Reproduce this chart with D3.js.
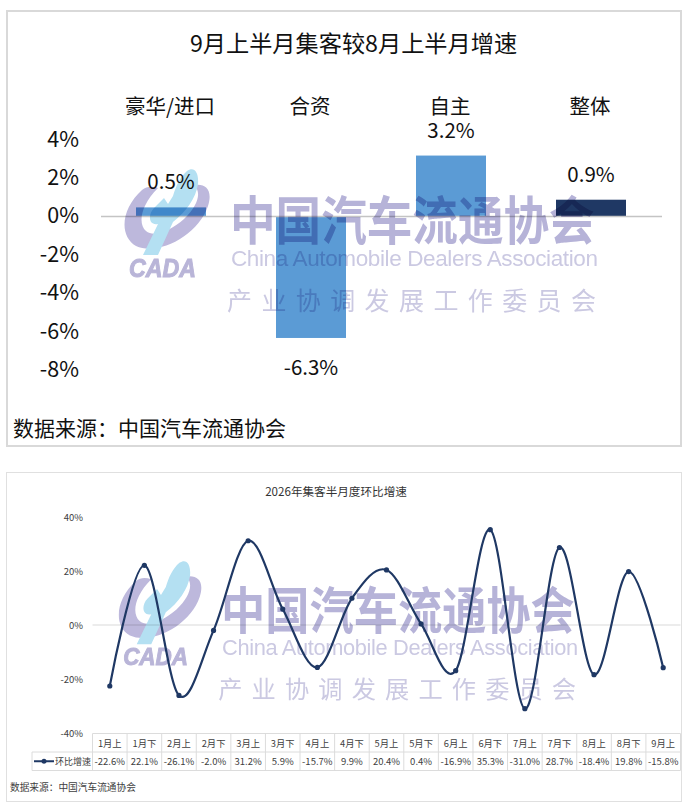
<!DOCTYPE html>
<html><head><meta charset="utf-8">
<script src="https://cdnjs.cloudflare.com/ajax/libs/d3/7.8.5/d3.min.js"></script>
<style>
html,body{margin:0;padding:0;background:#fff}
svg{display:block}
text{font-family:"Noto Sans CJK SC","Noto Sans",sans-serif}
.wm{mix-blend-mode:multiply}
</style></head><body>
<svg id="c" width="687" height="809"></svg>
<script>
const barTitle = "9月上半月集客较8月上半月增速";
const barCategories = ["豪华/进口","合资","自主","整体"];
const barValues = [0.5,-6.3,3.2,0.9];
const barTicks = [4,2,0,-2,-4,-6,-8];
const barColors = ["#5b9bd5","#5b9bd5","#5b9bd5","#1f3864"];
const sourceText = "数据来源：中国汽车流通协会";
const lineTitle = "2026年集客半月度环比增速";
const periods = ["1月上","1月下","2月上","2月下","3月上","3月下","4月上","4月下","5月上","5月下","6月上","6月下","7月上","7月下","8月上","8月下","9月上"];
const momGrowth = [-22.6,22.1,-26.1,-2.0,31.2,5.9,-15.7,9.9,20.4,0.4,-16.9,35.3,-31.0,28.7,-18.4,19.8,-15.8];
const lineTicks = [40,20,0,-20,-40];
const seriesName = "环比增速";

const svg = d3.select("#c");
const pct1 = d => d.toFixed(1)+"%";
svg.append("rect").attr("x",7).attr("y",11).attr("width",674).attr("height",435).attr("fill","#fff").attr("stroke","#d9d9d9").attr("stroke-width",2);
svg.append("rect").attr("x",6.5).attr("y",472.5).attr("width",675).attr("height",329).attr("fill","#fff").attr("stroke","#e0e0e0");

/* ---------- top bar chart ---------- */
const x1 = d3.scaleBand().domain(barCategories).range([101,661]).paddingInner(0.5).paddingOuter(0.25);
const y1 = d3.scaleLinear().domain([-8,4]).range([370.6,140.2]);
const topG = svg.append("g");
topG.append("text").attr("x",353.5).attr("y",41.5).attr("text-anchor","middle").attr("dominant-baseline","central").attr("font-size",23.2).attr("fill","#111").text(barTitle);
topG.selectAll("rect.bar").data(barValues).join("rect").attr("class","bar")
  .attr("x",(d,i)=>x1(barCategories[i])).attr("width",x1.bandwidth())
  .attr("y",d=>y1(Math.max(d,0))).attr("height",d=>Math.abs(y1(d)-y1(0)))
  .attr("fill",(d,i)=>barColors[i]);
topG.append("line").attr("x1",101).attr("x2",662).attr("y1",216.5).attr("y2",216.5).attr("stroke","#c4c4c4").attr("stroke-width",1.5);
const axT = topG.append("g").attr("transform","translate(79,-1)").call(d3.axisLeft(y1).tickValues(barTicks).tickSize(0).tickPadding(0).tickFormat(d=>d+"%"));
axT.select(".domain").remove();
axT.selectAll("text").attr("font-size",21.5).attr("fill","#111").attr("font-family",'"Noto Sans CJK SC"');
topG.selectAll("text.cat").data(barCategories).join("text").attr("class","cat")
  .attr("x",d=>x1(d)+x1.bandwidth()/2-1).attr("y",104.5).attr("text-anchor","middle").attr("dominant-baseline","central")
  .attr("font-size",20.5).attr("fill","#111").text(d=>d);
topG.selectAll("text.val").data(barValues).join("text").attr("class","val")
  .attr("x",(d,i)=>x1(barCategories[i])+x1.bandwidth()/2)
  .attr("y",d=>d<0?y1(d)+28:y1(d)-27).attr("text-anchor","middle").attr("dominant-baseline","central")
  .attr("font-size",20.5).attr("fill","#111").text(pct1);
topG.append("text").attr("x",13).attr("y",426.5).attr("dominant-baseline","central").attr("font-size",21).attr("fill","#111").text(sourceText);

/* ---------- bottom line chart ---------- */
const x2 = d3.scaleBand().domain(periods).range([92.5,680.5]);
const y2 = d3.scaleLinear().domain([-40,40]).range([733,517]);
const cx = p => x2(p)+x2.bandwidth()/2;
const bot = svg.append("g");
bot.append("text").attr("x",336).attr("y",491).attr("text-anchor","middle").attr("dominant-baseline","central").attr("font-size",11.6).attr("fill","#333").text(lineTitle);
bot.append("line").attr("x1",92.5).attr("x2",680.5).attr("y1",y2(0)).attr("y2",y2(0)).attr("stroke","#d9d9d9");
const axB = bot.append("g").attr("transform","translate(83,0)").call(d3.axisLeft(y2).tickValues(lineTicks).tickSize(0).tickPadding(0).tickFormat(d=>d+"%"));
axB.select(".domain").remove();
axB.selectAll("text").attr("font-size",9.5).attr("fill","#404040").attr("font-family",'"Noto Sans CJK SC"');

/* table */
const rowTop=733.5,rowMid=752,rowBot=770.5,legL=32;
const tbl = bot.append("g").attr("stroke","#dcdcdc").attr("fill","none");
[[92.5,rowTop,680.5,rowTop],[legL,rowMid,680.5,rowMid],[legL,rowBot,680.5,rowBot],[legL,rowMid,legL,rowBot]].forEach(l=>
  tbl.append("line").attr("x1",l[0]).attr("y1",l[1]).attr("x2",l[2]).attr("y2",l[3]));
x2.domain().concat([null]).forEach(p=>{
  const X = p===null?680.5:x2(p);
  tbl.append("line").attr("x1",X).attr("x2",X).attr("y1",rowTop).attr("y2",rowBot);
});
bot.selectAll("text.per").data(periods).join("text").attr("class","per")
  .attr("x",cx).attr("y",(rowTop+rowMid)/2).attr("text-anchor","middle").attr("dominant-baseline","central").attr("font-size",9.3).attr("fill","#404040").text(d=>d);
bot.selectAll("text.tv").data(momGrowth).join("text").attr("class","tv")
  .attr("x",(d,i)=>cx(periods[i])).attr("y",(rowMid+rowBot)/2).attr("text-anchor","middle").attr("dominant-baseline","central").attr("font-size",9.5).attr("fill","#404040").text(pct1);
bot.append("line").attr("x1",34).attr("x2",54).attr("y1",(rowMid+rowBot)/2).attr("y2",(rowMid+rowBot)/2).attr("stroke","#1f3864").attr("stroke-width",2);
bot.append("circle").attr("cx",44).attr("cy",(rowMid+rowBot)/2).attr("r",2.5).attr("fill","#1f3864");
bot.append("text").attr("x",55).attr("y",(rowMid+rowBot)/2).attr("dominant-baseline","central").attr("font-size",9).attr("fill","#404040").text(seriesName);
bot.append("text").attr("x",10).attr("y",786.5).attr("dominant-baseline","central").attr("font-size",9.7).attr("fill","#404040").text(sourceText);

/* ---------- watermarks ---------- */
function watermark(tr){
  const g = svg.append("g").attr("class","wm").attr("transform",tr);
  g.append("path").attr("fill","#bdb8dc").attr("fill-rule","evenodd")
   .attr("d","M142 190 C122 208 118 235 136 246 C158 256 198 236 208 206 C213 190 206 183 194 185 C202 192 198 206 184 219 C170 231 154 238 146 231 C138 224 140 206 158 188 C152 186 147 186 142 190 Z");
  g.append("path").attr("fill","#b4e0f2")
   .attr("d","M187 171 C194 166 199 172 198 184 C196 198 186 212 173 222 L158 255 L143 255 L158 224 C148 226 148 214 154 208 L164 198 L168 204 L173 196 C176 186 180 177 187 171 Z");
  g.append("text").attr("x",129).attr("y",268).attr("dominant-baseline","central").attr("font-size",25).attr("font-weight",700).attr("font-style","italic")
   .attr("textLength",67).attr("lengthAdjust","spacingAndGlyphs").attr("stroke","#b9b5d8").attr("stroke-width",1)
   .attr("style",'font-family:"Liberation Sans"').attr("fill","#b9b5d8").text("CADA");
  g.append("text").attr("transform","translate(230,217) scale(1,1.14)").attr("dominant-baseline","central").attr("font-size",45.6).attr("font-weight",700)
   .attr("fill","#b6b3d8").text("中国汽车流通协会");
  g.append("text").attr("x",231).attr("y",258).attr("dominant-baseline","central").attr("font-size",22.5).attr("textLength",367)
   .attr("style",'font-family:"Liberation Sans"').attr("fill","#cbc9e2").text("China Automobile Dealers Association");
  g.append("text").attr("x",227).attr("y",299).attr("dominant-baseline","central").attr("font-size",25).attr("letter-spacing",9.4)
   .attr("fill","#cbc9e2").text("产业协调发展工作委员会");
}
watermark("");
watermark("translate(-2,397) scale(0.97)");

/* line drawn above the watermark */
const lineGen = d3.line().x((d,i)=>cx(periods[i])).y(d=>y2(d)).curve(d3.curveCardinal.tension(0));
svg.append("path").attr("d",lineGen(momGrowth)).attr("fill","none").attr("stroke","#1f3864").attr("stroke-width",2.2);
svg.selectAll("circle.pt").data(momGrowth).join("circle").attr("class","pt")
  .attr("cx",(d,i)=>cx(periods[i])).attr("cy",d=>y2(d)).attr("r",2.6).attr("fill","#1f3864");
</script>
</body></html>
